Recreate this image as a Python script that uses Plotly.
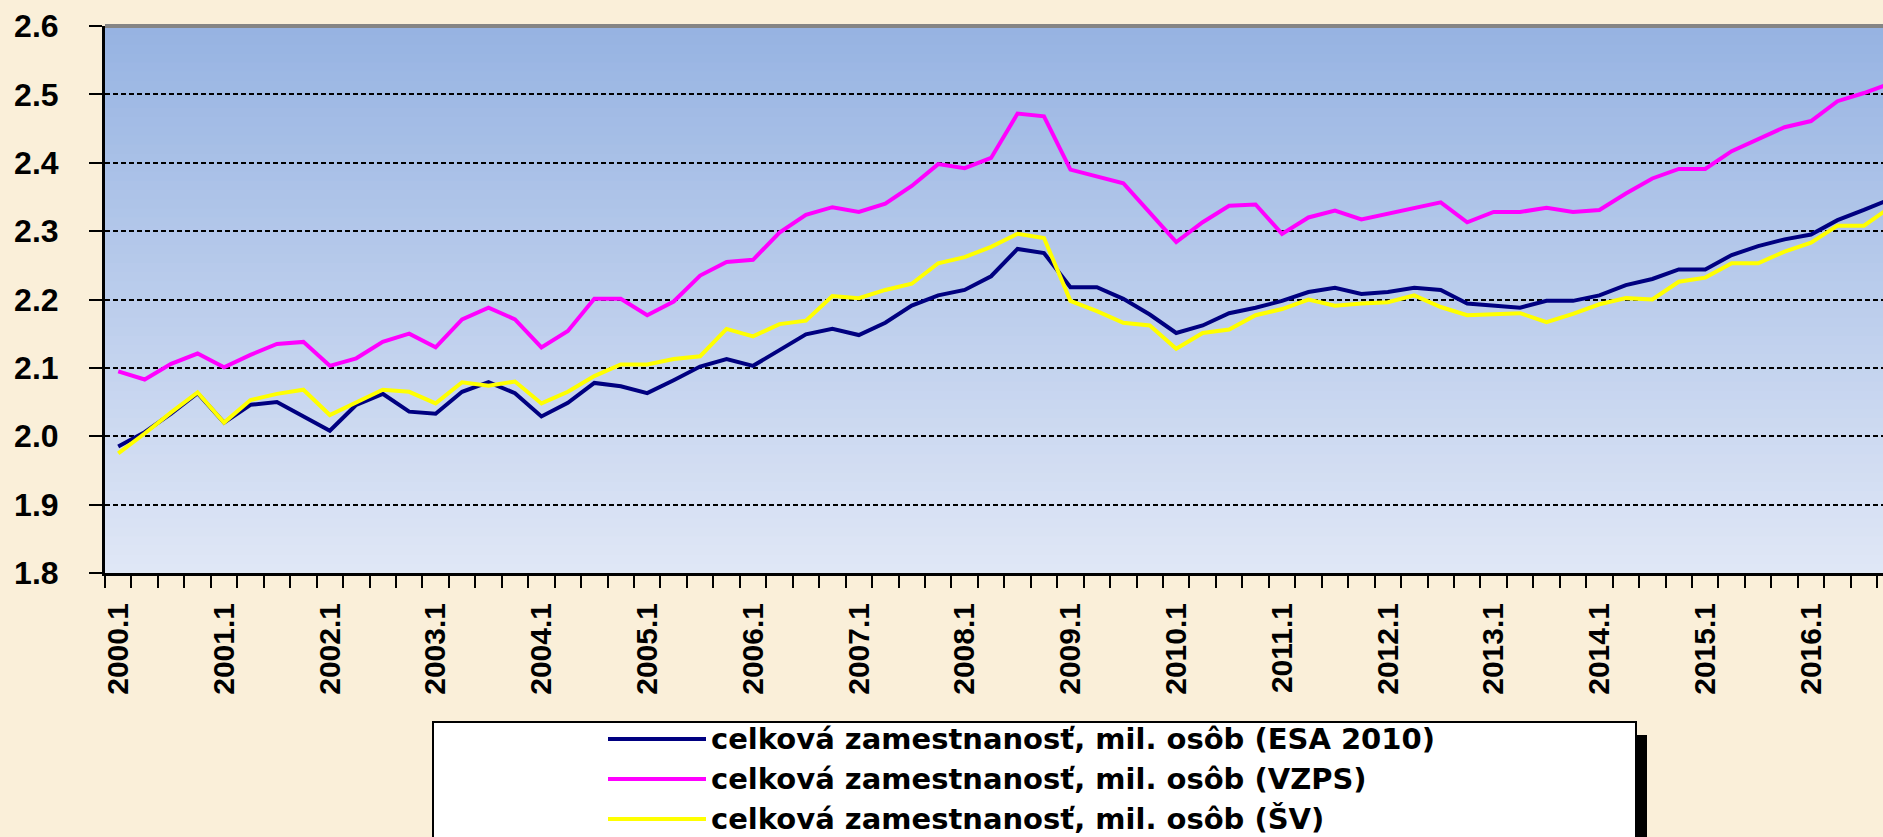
import plotly.graph_objects as go

# quarterly categories 2000.1 .. 2016.4
quarters = [f"{y}.{q}" for y in range(2000, 2017) for q in range(1, 5)]

esa = [1.985, 2.006, 2.033, 2.063, 2.020, 2.046, 2.050, 2.029, 2.008, 2.046,
       2.062, 2.036, 2.033, 2.065, 2.079, 2.063, 2.029, 2.049, 2.078, 2.073,
       2.063, 2.082, 2.102, 2.113, 2.103, 2.126, 2.149, 2.157, 2.148, 2.166,
       2.191, 2.206, 2.214, 2.234, 2.274, 2.268, 2.218, 2.218, 2.201, 2.178,
       2.151, 2.162, 2.180, 2.188, 2.198, 2.211, 2.217, 2.208, 2.211, 2.217,
       2.214, 2.194, 2.191, 2.188, 2.198, 2.198, 2.206, 2.221, 2.230, 2.244,
       2.244, 2.265, 2.278, 2.288, 2.295, 2.316, 2.331, 2.347]

vzps = [2.095, 2.083, 2.106, 2.121, 2.101, 2.119, 2.135, 2.138, 2.103, 2.114,
        2.138, 2.150, 2.130, 2.171, 2.188, 2.171, 2.130, 2.154, 2.201, 2.201,
        2.177, 2.197, 2.235, 2.255, 2.258, 2.298, 2.324, 2.335, 2.328, 2.340,
        2.366, 2.398, 2.392, 2.407, 2.472, 2.468, 2.390, 2.380, 2.370, 2.327,
        2.284, 2.313, 2.337, 2.339, 2.296, 2.320, 2.330, 2.317, 2.325, 2.334,
        2.342, 2.313, 2.328, 2.328, 2.334, 2.328, 2.331, 2.355, 2.377, 2.391,
        2.391, 2.417, 2.435, 2.452, 2.461, 2.490, 2.502, 2.516]

sv = [1.975, 2.004, 2.035, 2.064, 2.020, 2.053, 2.062, 2.068, 2.031, 2.050,
      2.068, 2.065, 2.048, 2.079, 2.074, 2.080, 2.048, 2.065, 2.088, 2.105,
      2.105, 2.113, 2.117, 2.157, 2.146, 2.164, 2.169, 2.205, 2.202, 2.214,
      2.223, 2.253, 2.262, 2.277, 2.296, 2.290, 2.198, 2.183, 2.166, 2.162,
      2.128, 2.151, 2.156, 2.177, 2.186, 2.200, 2.191, 2.194, 2.196, 2.206,
      2.189, 2.177, 2.179, 2.180, 2.167, 2.179, 2.193, 2.202, 2.200, 2.226,
      2.232, 2.253, 2.253, 2.270, 2.283, 2.308, 2.308, 2.335]

names = ["celková zamestnanosť, mil. osôb (ESA 2010)",
         "celková zamestnanosť, mil. osôb (VZPS)",
         "celková zamestnanosť, mil. osôb (ŠV)"]
colors = ["#000080", "#FF00FF", "#FFFF00"]

W, H = 1883, 837
ML, MR, MT, MB = 105, 0, 26, 264
PW, PH = W - ML - MR, H - MT - MB


def px_x(px):
    return (px - ML) / PW


def px_y(py):
    return (H - MB - py) / PH


fig = go.Figure()
for vals, name, col in zip([esa, vzps, sv], names, colors):
    fig.add_trace(go.Scatter(x=quarters, y=vals, name=name, mode="lines",
                             line=dict(color=col, width=4), showlegend=False))

shapes = []
# plot-area vertical gradient
top_c, bot_c = (150, 179, 226), (224, 231, 246)
n = 60
for k in range(n):
    t = (k + 0.5) / n
    c = tuple(round(bot_c[j] + (top_c[j] - bot_c[j]) * t) for j in range(3))
    shapes.append(dict(type="rect", xref="x domain", yref="y domain",
                       x0=0, x1=1, y0=k / n, y1=(k + 1) / n + 0.002,
                       fillcolor="rgb(%d,%d,%d)" % c, line_width=0, layer="below"))
# top border
shapes.append(dict(type="line", xref="x domain", yref="y domain", x0=0, x1=1, y0=1, y1=1,
                   line=dict(color="#858585", width=4), layer="above"))

# legend box drawn by hand (long line samples)
shapes.append(dict(type="rect", xref="paper", yref="paper",
                   x0=px_x(1636), x1=px_x(1647), y0=px_y(860), y1=px_y(735),
                   fillcolor="black", line_width=0))
shapes.append(dict(type="rect", xref="paper", yref="paper",
                   x0=px_x(433), x1=px_x(1636), y0=px_y(860), y1=px_y(722),
                   fillcolor="white", line=dict(color="black", width=2)))
annotations = []
for row, (name, col) in enumerate(zip(names, colors)):
    yy = 739 + row * 40
    shapes.append(dict(type="line", xref="paper", yref="paper",
                       x0=px_x(608), x1=px_x(706), y0=px_y(yy), y1=px_y(yy),
                       line=dict(color=col, width=4)))
    annotations.append(dict(xref="paper", yref="paper", x=px_x(709), y=px_y(yy),
                            text=name, showarrow=False, xanchor="left", yanchor="middle",
                            font=dict(family="DejaVu Sans", size=29, color="black", weight="bold")))

fig.update_layout(
    width=W, height=H,
    margin=dict(l=ML, r=MR, t=MT, b=MB, autoexpand=False),
    paper_bgcolor="#FAEFD9",
    plot_bgcolor="#C0D0EC",
    shapes=shapes,
    annotations=annotations,
    showlegend=False,
)
fig.update_xaxes(
    type="category",
    range=[-0.5, (PW / 26.45) - 0.5],
    tickvals=quarters,
    ticktext=[q if q.endswith(".1") else "" for q in quarters],
    tickson="boundaries",
    ticks="outside", ticklen=12, tickwidth=2, tickcolor="black",
    tickangle=-90,
    tickfont=dict(family="Liberation Sans", size=30, color="black", weight="bold"),
    ticklabelstandoff=15,
    showline=True, linecolor="black", linewidth=3,
    showgrid=False, zeroline=False,
)
fig.update_yaxes(
    range=[1.8, 2.6], dtick=0.1, tick0=1.8, tickformat=".1f",
    ticks="outside", ticklen=13, tickwidth=2, tickcolor="black",
    tickfont=dict(family="Liberation Sans", size=32, color="black", weight="bold"),
    ticklabelstandoff=24,
    showline=True, linecolor="black", linewidth=3,
    showgrid=True, gridcolor="black", gridwidth=2, griddash="5px,3px",
    zeroline=False,
)

# drop the page's default body margin so the figure sits at (0, 0)
fig.write_html("out.html", config={"displayModeBar": False},
               post_script="document.body.style.margin='0';")
